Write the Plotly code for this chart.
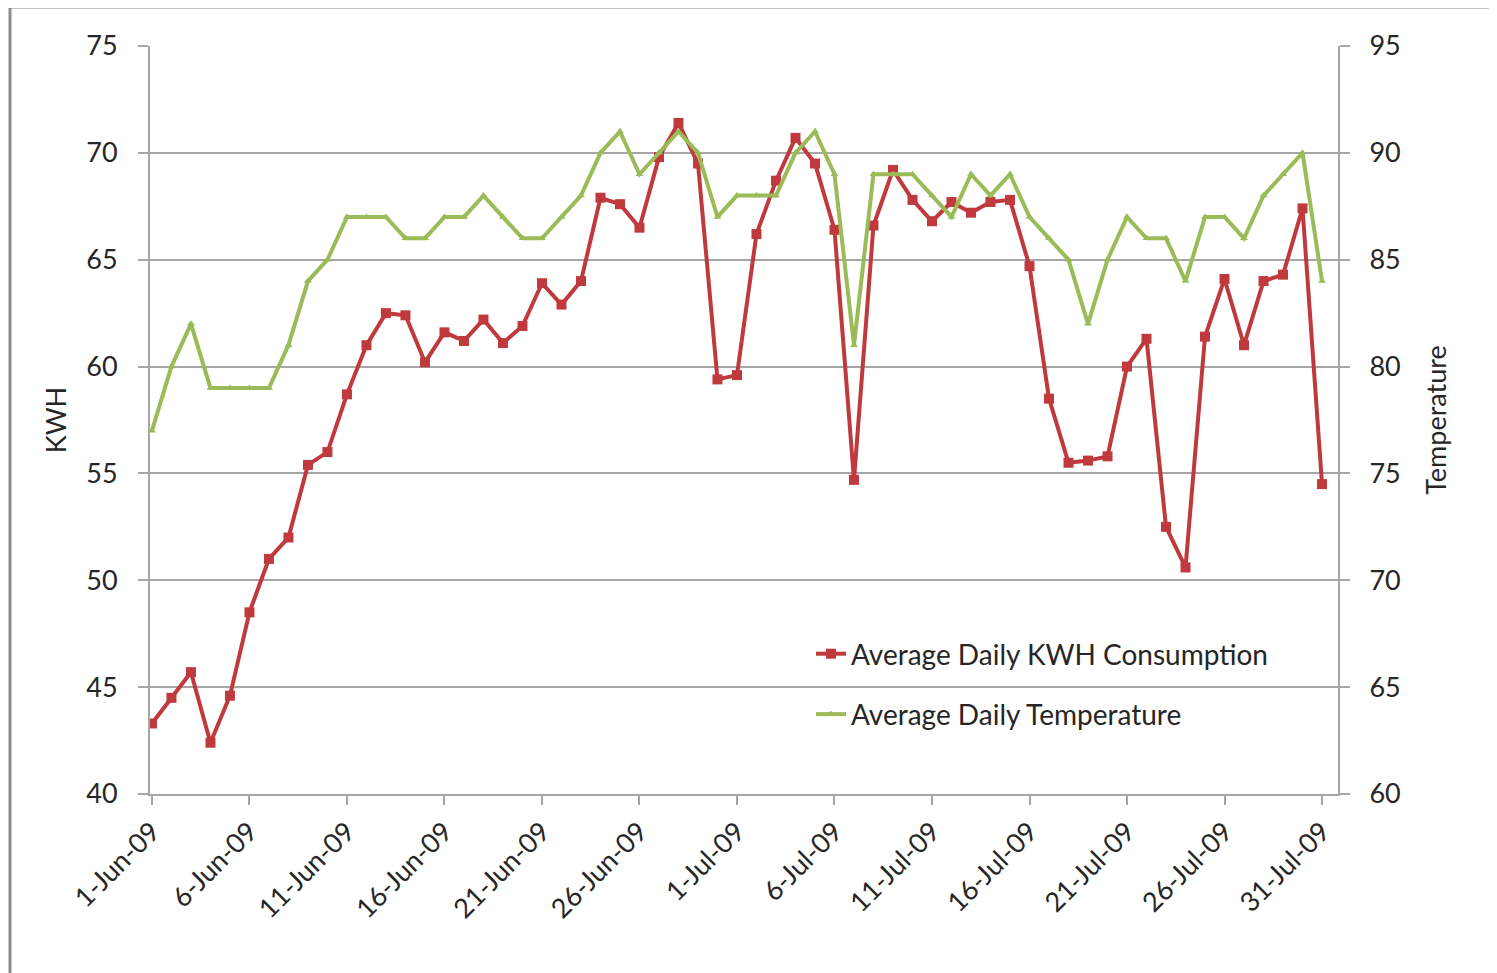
import pandas as pd
import plotly.graph_objects as go

dates = pd.date_range("2009-06-01", "2009-07-31", freq="D")

kwh = [43.3, 44.5, 45.7, 42.4, 44.6, 48.5, 51.0, 52.0, 55.4, 56.0,
       58.7, 61.0, 62.5, 62.4, 60.2, 61.6, 61.2, 62.2, 61.1, 61.9,
       63.9, 62.9, 64.0, 67.9, 67.6, 66.5, 69.8, 71.4, 69.5, 59.4,
       59.6, 66.2, 68.7, 70.7, 69.5, 66.4, 54.7, 66.6, 69.2, 67.8,
       66.8, 67.7, 67.2, 67.7, 67.8, 64.7, 58.5, 55.5, 55.6, 55.8,
       60.0, 61.3, 52.5, 50.6, 61.4, 64.1, 61.0, 64.0, 64.3, 67.4,
       54.5]

temp = [77, 80, 82, 79, 79, 79, 79, 81, 84, 85,
        87, 87, 87, 86, 86, 87, 87, 88, 87, 86,
        86, 87, 88, 90, 91, 89, 90, 91, 90, 87,
        88, 88, 88, 90, 91, 89, 81, 89, 89, 89,
        88, 87, 89, 88, 89, 87, 86, 85, 82, 85,
        87, 86, 86, 84, 87, 87, 86, 88, 89, 90,
        84]

kwh_name = "Average Daily KWH Consumption"
temp_name = "Average Daily Temperature"

RED = "#C0393D"
GREEN = "#9BBB59"
GRID = "#A6A6A6"
FONT = "Lato, Carlito, Calibri, sans-serif"

fig = go.Figure()
fig.add_trace(go.Scatter(
    x=dates, y=kwh, name=kwh_name, mode="lines+markers",
    line=dict(color=RED, width=4),
    marker=dict(symbol="square", size=10, color=RED),
    legendgroup="a", yaxis="y"))
fig.add_trace(go.Scatter(
    x=dates, y=temp, name=temp_name, mode="lines+markers",
    line=dict(color=GREEN, width=4),
    marker=dict(symbol="triangle-up", size=7, color=GREEN),
    legendgroup="b", yaxis="y2"))

# page body has an 8px margin; figure coordinates are offset by it
OFF = 8
W, H = 1497 - OFF, 973 - OFF
L, T = 150 - OFF, 46 - OFF
pw, ph = 1188, 748
R = W - L - pw
B = H - T - ph

def px(xpix):
    return (xpix - OFF - L) / pw

def py(ypix):
    return (T + ph - (ypix - OFF)) / ph

fig.update_layout(
    width=W, height=H,
    margin=dict(l=L, r=R, t=T, b=B),
    paper_bgcolor="white", plot_bgcolor="white",
    font=dict(family=FONT, size=27, color="#262626"),
    showlegend=True,
    legend=dict(
        x=px(811), y=py(629), xanchor="left", yanchor="top",
        bgcolor="rgba(0,0,0,0)", font=dict(size=28, color="#262626"),
        traceorder="grouped", tracegroupgap=21,
    ),
    xaxis=dict(
        type="date",
        range=["2009-05-31 21:36", "2009-07-31 19:40"],
        tick0="2009-06-01", dtick=5 * 86400000,
        tickformat="%-d-%b-%y", tickangle=-45,
        showgrid=False, showline=True, linecolor=GRID, linewidth=2,
        ticks="outside", ticklen=9, tickcolor=GRID, tickwidth=2,
        tickfont=dict(size=27), zeroline=False,
    ),
    yaxis=dict(
        range=[40, 75], dtick=5, tick0=40,
        showgrid=True, gridcolor=GRID, gridwidth=2,
        showline=True, linecolor=GRID, linewidth=2,
        ticks="outside", ticklen=10, tickcolor=GRID, tickwidth=2,
        ticklabelstandoff=15, zeroline=False,
        title=dict(text="KWH", standoff=12, font=dict(size=27)),
    ),
    yaxis2=dict(
        range=[60, 95], dtick=5, tick0=60,
        overlaying="y", side="right",
        showgrid=False, showline=True, linecolor=GRID, linewidth=2,
        ticks="outside", ticklen=10, tickcolor=GRID, tickwidth=2,
        ticklabelstandoff=14, zeroline=False,
        title=dict(text="Temperature", standoff=27, font=dict(size=27)),
    ),
    shapes=[
        dict(type="line", xref="paper", yref="paper",
             x0=px(10), x1=px(1497 + 5), y0=py(7), y1=py(7),
             line=dict(color="#8C8C8C", width=3)),
        dict(type="line", xref="paper", yref="paper",
             x0=px(10), x1=px(10), y0=py(7), y1=py(973 + 5),
             line=dict(color="#8C8C8C", width=3)),
    ],
)

fig.write_html("out.html")
